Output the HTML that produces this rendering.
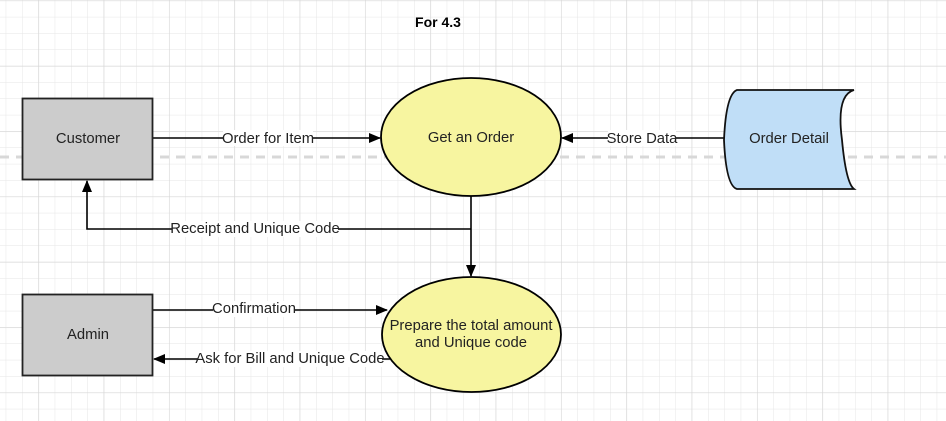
<!DOCTYPE html>
<html><head><meta charset="utf-8"><style>
html,body{margin:0;padding:0;background:#fff;}
svg{display:block;}
text{font-family:"Liberation Sans",Arial,sans-serif;font-size:14.8px;fill:#222;}
</style></head><body>
<svg width="946" height="421" viewBox="0 0 946 421" xmlns="http://www.w3.org/2000/svg">
<defs>
<pattern id="minor" x="5.7" y="0.5" width="16.333" height="16.333" patternUnits="userSpaceOnUse">
<path d="M0 0V16.333M0 0H16.333" stroke="#e6e6e6" stroke-width="1" fill="none"/>
</pattern>
<pattern id="major" x="38.3" y="0.5" width="65.333" height="65.333" patternUnits="userSpaceOnUse">
<path d="M0 0V65.333M0 0H65.333" stroke="#d6d6d6" stroke-width="1.2" fill="none"/>
</pattern>
<marker id="ah" markerWidth="12" markerHeight="10" refX="11" refY="5" orient="auto" markerUnits="userSpaceOnUse">
<path d="M0 0L12 5L0 10Z" fill="#000"/>
</marker>
</defs>
<rect width="946" height="421" fill="url(#minor)"/>
<rect width="946" height="421" fill="url(#major)"/>
<line x1="0" y1="157" x2="946" y2="157" stroke="#d8d8d8" stroke-width="3" stroke-dasharray="9,7"/>

<text x="438" y="27" text-anchor="middle" style="font-weight:bold;font-size:14px;fill:#000">For 4.3</text>

<!-- connectors -->
<line x1="153" y1="138" x2="380" y2="138" stroke="#000" stroke-width="1.6" marker-end="url(#ah)"/>
<line x1="724" y1="138" x2="562" y2="138" stroke="#000" stroke-width="1.6" marker-end="url(#ah)"/>
<line x1="471" y1="196" x2="471" y2="276" stroke="#000" stroke-width="1.6" marker-end="url(#ah)"/>
<polyline points="471,229 87,229 87,181" fill="none" stroke="#000" stroke-width="1.6" marker-end="url(#ah)"/>
<line x1="153" y1="310" x2="387" y2="310" stroke="#000" stroke-width="1.6" marker-end="url(#ah)"/>
<line x1="390" y1="359" x2="154" y2="359" stroke="#000" stroke-width="1.6" marker-end="url(#ah)"/>

<!-- labels -->
<rect x="223" y="130" width="90" height="16" fill="#fff"/>
<text x="268" y="143" text-anchor="middle">Order for Item</text>
<rect x="608" y="130" width="68" height="16" fill="#fff"/>
<text x="642" y="143" text-anchor="middle">Store Data</text>
<rect x="172" y="221" width="166" height="16" fill="#fff"/>
<text x="255" y="233" text-anchor="middle">Receipt and Unique Code</text>
<rect x="213" y="301" width="82" height="16" fill="#fff"/>
<text x="254" y="313" text-anchor="middle">Confirmation</text>
<rect x="198" y="351" width="184" height="16" fill="#fff"/>
<text x="290" y="363" text-anchor="middle">Ask for Bill and Unique Code</text>

<!-- entities -->
<rect x="22.5" y="98.5" width="130" height="81" fill="#ccc" stroke="#222" stroke-width="1.8"/>
<text x="88" y="143" text-anchor="middle">Customer</text>
<rect x="22.5" y="294.5" width="130" height="81" fill="#ccc" stroke="#222" stroke-width="1.8"/>
<text x="88" y="339" text-anchor="middle">Admin</text>

<!-- processes -->
<ellipse cx="471" cy="137" rx="90" ry="59" fill="#f7f5a0" stroke="#000" stroke-width="1.8"/>
<text x="471" y="142" text-anchor="middle">Get an Order</text>
<ellipse cx="471.5" cy="334.5" rx="89.5" ry="57.5" fill="#f7f5a0" stroke="#000" stroke-width="1.8"/>
<text x="471" y="330" text-anchor="middle">Prepare the total amount</text>
<text x="471" y="347" text-anchor="middle">and Unique code</text>

<!-- data store -->
<path d="M737 90 H854 Q836 95 842 140 Q846 183 854 189 H737 Q726 186 724 140 Q726 94 737 90 Z" fill="#c0def7" stroke="#111" stroke-width="1.8"/>
<text x="789" y="143" text-anchor="middle">Order Detail</text>
</svg>
</body></html>
